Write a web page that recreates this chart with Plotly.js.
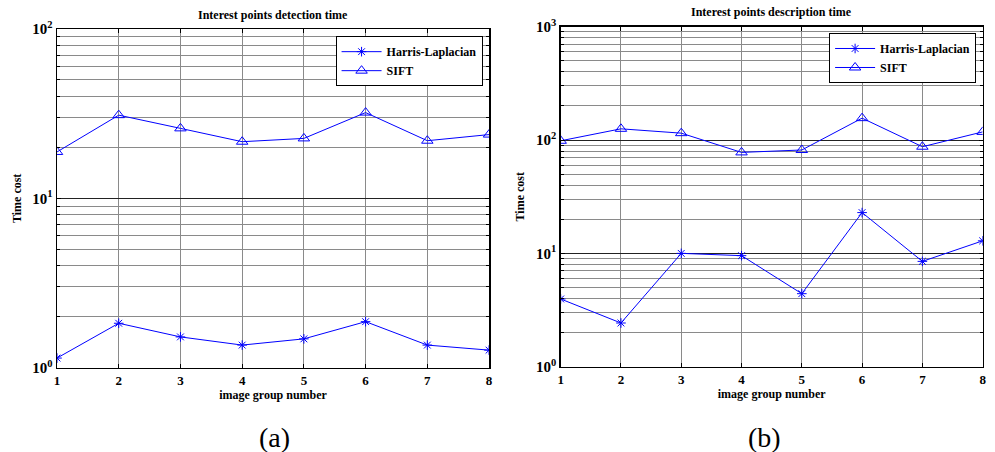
<!DOCTYPE html>
<html>
<head>
<meta charset="utf-8">
<script src="https://cdn.plot.ly/plotly-3.0.1.min.js"></script>
<style>html,body{margin:0;padding:0;background:#fff;}#chart{width:995px;height:452px;}</style>
</head>
<body>
<div id="chart"></div>
<script>
// ---- data ----
var groups = [1, 2, 3, 4, 5, 6, 7, 8];
var detectHarris = [1.14, 1.83, 1.52, 1.36, 1.48, 1.87, 1.36, 1.27];
var detectSIFT   = [18.8, 31.0, 25.9, 21.6, 22.6, 32.1, 21.9, 23.8];
var descHarris   = [3.96, 2.43, 10.0, 9.55, 4.41, 22.9, 8.5, 12.9];
var descSIFT     = [98.5, 125.6, 115, 77.8, 81.7, 156, 87.3, 118];
var seriesNames  = ["Harris-Laplacian", "SIFT"];
var titleA = "Interest points detection time";
var titleB = "Interest points description time";
var xTitle = "image group number";
var yTitle = "Time cost";
var panelLabels = ["(a)", "(b)"];
var majorA = [1, 10, 100];
var majorALabels = ["10<sup>0</sup>", "10<sup>1</sup>", "10<sup>2</sup>"];
var majorB = [1, 10, 100, 1000];
var majorBLabels = ["10<sup>0</sup>", "10<sup>1</sup>", "10<sup>2</sup>", "10<sup>3</sup>"];

function minorVals(decades) {
  var v = [];
  for (var d = 0; d < decades; d++) {
    for (var k = 2; k <= 9; k++) v.push(k * Math.pow(10, d));
  }
  return v;
}

var blue = "#0000ff";
var serif = "'Liberation Serif', 'Times New Roman', 'DejaVu Serif', serif";

function tr(x, y, name, sym, sz, xa, ya, leg) {
  return {
    x: x, y: y, name: name, type: "scatter", mode: "lines+markers",
    xaxis: xa, yaxis: ya, showlegend: true, legend: leg,
    line: {color: blue, width: 1},
    marker: {symbol: sym, color: blue, size: sz, line: {color: blue, width: 1}}
  };
}

var data = [
  tr(groups, detectHarris, seriesNames[0], "asterisk-open", 8, "x", "y", "legend"),
  tr(groups, detectSIFT, seriesNames[1], "triangle-up-open", 10, "x", "y", "legend"),
  tr(groups, descHarris, seriesNames[0], "asterisk-open", 8, "x2", "y2", "legend2"),
  tr(groups, descSIFT, seriesNames[1], "triangle-up-open", 10, "x2", "y2", "legend2")
];

var xTickFont = {family: serif, size: 13, color: "#000", weight: "bold"};
var yTickFont = {family: serif, size: 15, color: "#000", weight: "bold"};
var titleFont = {family: serif, size: 12, color: "#000", weight: "bold"};

function xaxis(dom, anchor) {
  return {
    domain: dom, anchor: anchor, range: [1, 8], tickvals: groups,
    ticks: "inside", ticklen: 4, tickcolor: "#000", mirror: "ticks",
    showline: true, linecolor: "#000", linewidth: 1.5,
    showgrid: true, gridcolor: "#8a8a8a", gridwidth: 1,
    zeroline: false, tickfont: xTickFont,
    title: {text: xTitle, font: titleFont, standoff: 2}
  };
}
function yaxis(dom, anchor, decades, tv, tt) {
  return {
    domain: dom, anchor: anchor, type: "log", range: [0, decades],
    tickmode: "array", tickvals: tv, ticktext: tt,
    ticks: "inside", ticklen: 4, tickcolor: "#000", mirror: "ticks",
    showline: true, linecolor: "#000", linewidth: 1.5,
    showgrid: true, gridcolor: "#222", gridwidth: 1,
    minor: {tickmode: "array", tickvals: minorVals(decades), showgrid: true, gridcolor: "#8a8a8a", gridwidth: 1, ticks: "inside", ticklen: 3, tickcolor: "#000"},
    zeroline: false, tickfont: yTickFont,
    title: {text: yTitle, font: titleFont, standoff: 8}
  };
}

var legendBase = {
  bgcolor: "#fff", bordercolor: "#000", borderwidth: 1,
  font: {family: serif, size: 12, color: "#000", weight: "bold"},
  xanchor: "right", yanchor: "top", tracegroupgap: 0, itemwidth: 40
};

var layout = {
  width: 995, height: 452,
  margin: {l: 0, r: 0, t: 0, b: 0},
  paper_bgcolor: "#fff", plot_bgcolor: "#fff",
  showlegend: true,
  xaxis: xaxis([0.0573, 0.4915], "y"),
  yaxis: yaxis([0.1865, 0.9358], "x", 2, majorA, majorALabels),
  xaxis2: xaxis([0.5635, 0.9876], "y2"),
  yaxis2: yaxis([0.1887, 0.9409], "x2", 3, majorB, majorBLabels),
  legend: Object.assign({}, legendBase, {x: 0.485, y: 0.92}),
  legend2: Object.assign({}, legendBase, {x: 0.981, y: 0.927}),
  annotations: [
    {text: titleA, xref: "x domain", yref: "paper", x: 0.5, y: 1 - 15 / 452, yanchor: "middle", showarrow: false, font: titleFont},
    {text: titleB, xref: "x2 domain", yref: "paper", x: 0.5, y: 1 - 12 / 452, yanchor: "middle", showarrow: false, font: titleFont},
    {text: panelLabels[0], xref: "paper", yref: "paper", x: 257 / 995, y: 1 - 437 / 452, yanchor: "middle", showarrow: false, font: {family: serif, size: 28, color: "#000"}},
    {text: panelLabels[1], xref: "paper", yref: "paper", x: 783 / 995, y: 1 - 437 / 452, yanchor: "middle", showarrow: false, font: {family: serif, size: 28, color: "#000"}}
  ]
};

Plotly.newPlot("chart", data, layout, {staticPlot: true, displayModeBar: false});
</script>
</body>
</html>
